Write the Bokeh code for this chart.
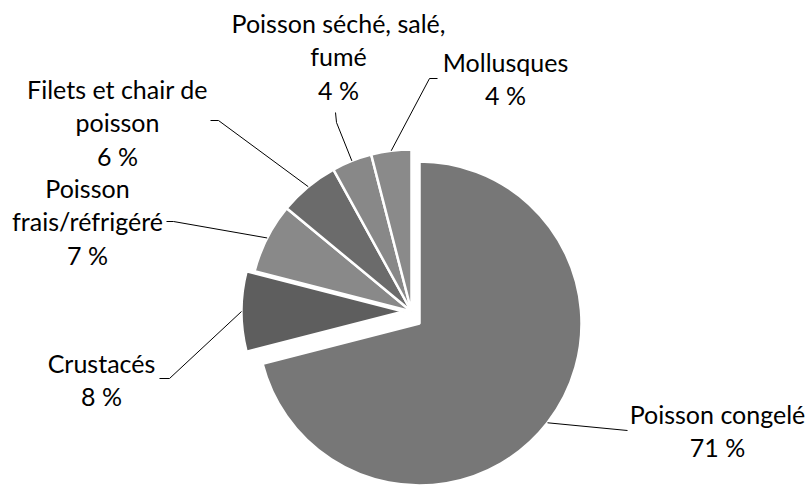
import math
from bokeh.plotting import figure
from bokeh.models import Range1d
from bokeh.core.properties import value
from bokeh.embed import file_html
from bokeh.resources import INLINE

# ---------------- data ----------------
categories = ["Poisson congelé", "Crustacés", "Poisson frais/réfrigéré",
              "Filets et chair de poisson", "Poisson séché, salé, fumé", "Mollusques"]
shares = [71, 8, 7, 6, 4, 4]
pct_labels = ["71 %", "8 %", "7 %", "6 %", "4 %", "4 %"]

# ---------------- style / layout ----------------
colors = ["#777777", "#5e5e5e", "#898989", "#6b6b6b", "#888888", "#8a8a8a"]
wrapped = [["Poisson congelé"], ["Crustacés"], ["Poisson", "frais/réfrigéré"],
           ["Filets et chair de", "poisson"], ["Poisson séché, salé,", "fumé"], ["Mollusques"]]
PAGE_H = 487
W, H = 807, 487
OX, OY = 0, 0
CX, CY, R = 411, 311, 162          # pie centre / radius (page px)
explode = [(8, 12), (-8, 0), (0, 0), (0, 0), (0, 0), (0, 0)]
label_pos = [(717, 413), (101, 362), (87, 187), (117, 88), (338, 22), (505, 61)]
leader_pts = [[(627, 430)], [(159, 378), (169, 378)], [(166, 221), (173, 221)],
              [(210, 120), (218, 120)], [(335, 112), (336, 122)], [(437, 78), (429, 78)]]
LINE_H = 33.5
FONT = "Lato"
FSIZE = "25px"


def Y(y):
    return PAGE_H - y


p = figure(width=W, height=H, output_backend="svg", toolbar_location=None,
           x_axis_type=None, y_axis_type=None,
           x_range=Range1d(OX, OX + W), y_range=Range1d(PAGE_H - OY - H, PAGE_H - OY),
           min_border=0, outline_line_color=None)
p.grid.visible = False
p.background_fill_color = "white"
p.border_fill_color = "white"

total = float(sum(shares))
cum = 0.0
for i, s in enumerate(shares):
    t1 = cum / total * 2 * math.pi          # clockwise from 12 o'clock
    t2 = (cum + s) / total * 2 * math.pi
    cum += s
    dx, dy = explode[i]
    cx, cy = CX + dx, CY + dy
    p.wedge(x=cx, y=Y(cy), radius=R,
            start_angle=math.pi / 2 - t2, end_angle=math.pi / 2 - t1,
            direction="anticlock", fill_color=colors[i],
            line_color="white", line_width=2.5)
    # leader line anchor: arc midpoint
    tm = (t1 + t2) / 2
    ax = cx + R * math.sin(tm)
    ay = cy - R * math.cos(tm)
    pts = leader_pts[i] + [(ax, ay)]
    p.line(x=[q[0] for q in pts], y=[Y(q[1]) for q in pts],
           line_color="black", line_width=1)
    # labels
    lines = wrapped[i] + [pct_labels[i]]
    lx, ly = label_pos[i]
    p.text(x=[lx] * len(lines), y=[Y(ly + k * LINE_H) for k in range(len(lines))],
           text=lines, text_align="center", text_baseline="middle",
           text_font=value(FONT), text_font_size=FSIZE, text_color="#000000")

open("out.html", "w").write(file_html(p, INLINE))
